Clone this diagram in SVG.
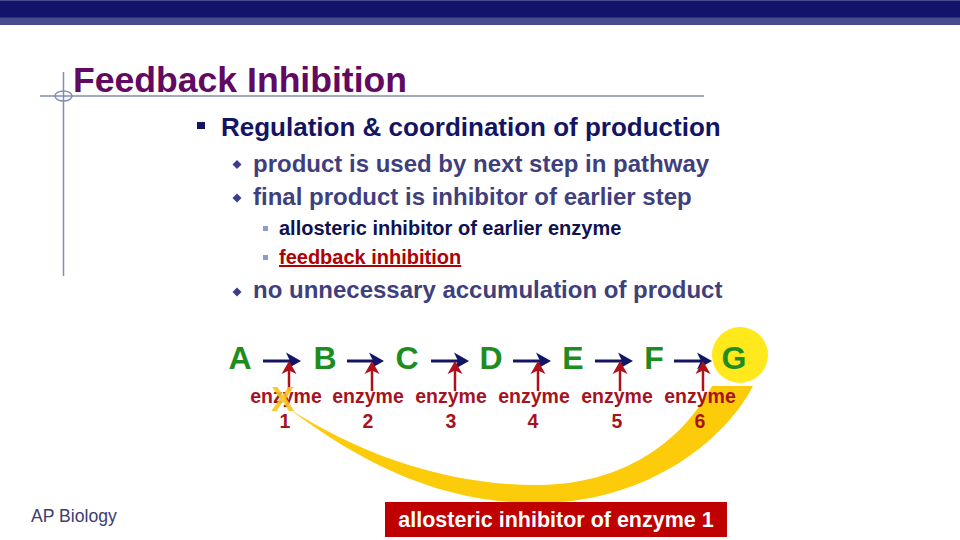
<svg xmlns="http://www.w3.org/2000/svg" width="960" height="540" viewBox="0 0 960 540">
<defs>
<style>
.t{font-family:"Liberation Sans",Arial,sans-serif;font-weight:bold}
.l1{font-size:26px;fill:#141464}
.l2{font-size:24px;fill:#3f3f7d}
.l3{font-size:20px;fill:#111150}
.met{font-size:32px;fill:#1e8c1e;text-anchor:middle}
.enz{font-size:19.5px;fill:#a5141e;text-anchor:middle}
.guide{stroke:#7f8db5;stroke-width:1.5;fill:none}
.blue{stroke:#141466;stroke-width:3;fill:none}
.red{stroke:#b0101a;stroke-width:2.5;fill:none}
.dia{fill:#3c3c8c}
.sq3{fill:#8a9ad8}
</style>
<marker id="bh" markerUnits="userSpaceOnUse" markerWidth="16" markerHeight="20" refX="9" refY="10" orient="auto">
<path d="M0,1.5 L15,10 L0,18.5 L4,10 Z" fill="#141466"/>
</marker>
<marker id="rh" markerUnits="userSpaceOnUse" markerWidth="14" markerHeight="18" refX="6" refY="9" orient="auto">
<path d="M0,1.5 L13,9 L0,16.5 L3.5,9 Z" fill="#b0101a"/>
</marker>
</defs>
<rect width="960" height="540" fill="#ffffff"/>
<g id="banner">
<rect x="0" y="0" width="960" height="25" fill="#464c8e"/>
<rect x="0" y="1" width="960" height="16.5" fill="#13136b"/>
</g>
<g id="guides">
<line class="guide" x1="40" y1="96" x2="704" y2="96"/>
<line class="guide" x1="63.5" y1="72" x2="63.5" y2="276"/>
<ellipse class="guide" cx="63.5" cy="96" rx="8.5" ry="5"/>
</g>
<g id="title">
<text class="t" x="73" y="92" font-size="35.6" fill="#620a62">Feedback Inhibition</text>
</g>
<g id="bullets">
<rect x="197" y="122" width="8" height="7" fill="#141464"/>
<text class="t l1" x="221" y="136">Regulation &amp; coordination of production</text>
<path class="dia" d="M237,160 L241.5,164.5 L237,169 L232.5,164.5 Z"/>
<text class="t l2" x="253" y="172">product is used by next step in pathway</text>
<path class="dia" d="M237,193.5 L241.5,198 L237,202.5 L232.5,198 Z"/>
<text class="t l2" x="253" y="205">final product is inhibitor of earlier step</text>
<rect class="sq3" x="263" y="226" width="5" height="5"/>
<text class="t l3" x="279" y="235">allosteric inhibitor of earlier enzyme</text>
<rect class="sq3" x="263" y="255" width="5" height="5"/>
<text class="t l3" x="279" y="264" style="fill:#b00000;text-decoration:underline">feedback inhibition</text>
<path class="dia" d="M237,287.5 L241.5,292 L237,296.5 L232.5,292 Z"/>
<text class="t l2" x="253" y="298">no unnecessary accumulation of product</text>
</g>
<g id="feedback-swoosh">
<path d="M753,386 C725,440 650,500 545,503 C450,505 370,470 288,408 C360,455 450,486 540,485 C620,484 680,445 712,386 Z" fill="#fccb0a"/>
</g>
<g id="G-highlight">
<circle cx="740" cy="355" r="28" fill="#ffe81c"/>
</g>
<g id="connectors">
<line class="blue" x1="263" y1="361" x2="295" y2="361" marker-end="url(#bh)"/>
<line class="blue" x1="347" y1="361" x2="378" y2="361" marker-end="url(#bh)"/>
<line class="blue" x1="431" y1="361" x2="463" y2="361" marker-end="url(#bh)"/>
<line class="blue" x1="513" y1="361" x2="545" y2="361" marker-end="url(#bh)"/>
<line class="blue" x1="595" y1="361" x2="627" y2="361" marker-end="url(#bh)"/>
<line class="blue" x1="674" y1="361" x2="706" y2="361" marker-end="url(#bh)"/>
<line class="red" x1="289" y1="391" x2="289" y2="368" marker-end="url(#rh)"/>
<line class="red" x1="372" y1="391" x2="372" y2="368" marker-end="url(#rh)"/>
<line class="red" x1="455" y1="391" x2="455" y2="368" marker-end="url(#rh)"/>
<line class="red" x1="538" y1="391" x2="538" y2="368" marker-end="url(#rh)"/>
<line class="red" x1="620" y1="391" x2="620" y2="368" marker-end="url(#rh)"/>
<line class="red" x1="703" y1="391" x2="703" y2="368" marker-end="url(#rh)"/>
</g>
<g id="A"><text class="t met" x="240" y="369">A</text></g>
<g id="B"><text class="t met" x="325" y="369">B</text></g>
<g id="C"><text class="t met" x="407" y="369">C</text></g>
<g id="D"><text class="t met" x="491" y="369">D</text></g>
<g id="E"><text class="t met" x="573" y="369">E</text></g>
<g id="F"><text class="t met" x="654" y="369">F</text></g>
<g id="G"><text class="t met" x="734" y="369">G</text></g>
<g id="enzyme1"><text class="t enz" x="286" y="403">enzyme</text><text class="t enz" x="285" y="428">1</text></g>
<g id="enzyme2"><text class="t enz" x="368" y="403">enzyme</text><text class="t enz" x="368" y="428">2</text></g>
<g id="enzyme3"><text class="t enz" x="451" y="403">enzyme</text><text class="t enz" x="451" y="428">3</text></g>
<g id="enzyme4"><text class="t enz" x="534" y="403">enzyme</text><text class="t enz" x="533" y="428">4</text></g>
<g id="enzyme5"><text class="t enz" x="617" y="403">enzyme</text><text class="t enz" x="617" y="428">5</text></g>
<g id="enzyme6"><text class="t enz" x="700" y="403">enzyme</text><text class="t enz" x="700" y="428">6</text></g>
<g id="block-mark">
<text class="t" x="283" y="411" font-size="35" fill="#f8c41c" fill-opacity="0.92" text-anchor="middle">X</text>
</g>
<g id="inhibitor-label">
<rect x="385" y="502" width="342" height="35" fill="#c00000"/>
<text class="t" x="556" y="527" font-size="21.5" fill="#ffffff" text-anchor="middle">allosteric inhibitor of enzyme 1</text>
</g>
<g id="footer">
<text x="31" y="522" font-family="Liberation Sans, Arial, sans-serif" font-size="17.6" fill="#3c3c70">AP Biology</text>
</g>
</svg>
